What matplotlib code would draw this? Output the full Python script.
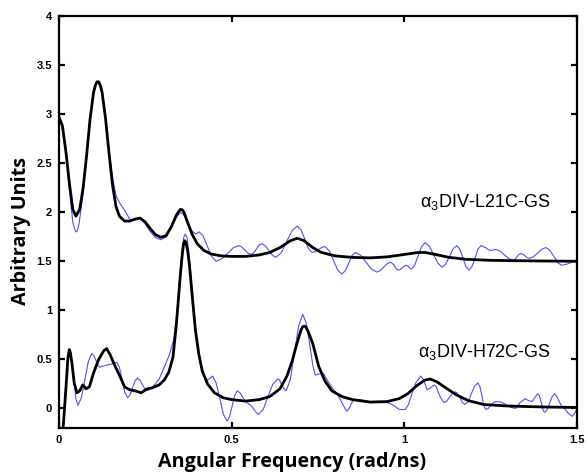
import matplotlib
matplotlib.use("Agg")
import matplotlib.pyplot as plt

# ---- data ----
l21c_fit_x = [0.000, 0.010, 0.020, 0.030, 0.040, 0.049, 0.060, 0.070, 0.080, 0.090, 0.100, 0.105, 0.110, 0.115,
              0.120, 0.125, 0.135, 0.145, 0.155, 0.165, 0.175, 0.190, 0.205, 0.220, 0.235, 0.250, 0.265, 0.280,
              0.295, 0.310, 0.325, 0.340, 0.347, 0.352, 0.357, 0.362, 0.372, 0.385, 0.400, 0.420, 0.440, 0.470, 0.500,
              0.540, 0.580, 0.610, 0.640, 0.670, 0.690, 0.710, 0.735, 0.760, 0.800, 0.850, 0.900, 0.950,
              1.000, 1.040, 1.060, 1.090, 1.130, 1.180, 1.250, 1.350, 1.500]
l21c_fit_y = [2.97, 2.88, 2.62, 2.30, 2.03, 1.96, 2.03, 2.25, 2.58, 2.95, 3.22, 3.29, 3.33, 3.33,
              3.29, 3.22, 2.95, 2.60, 2.28, 2.06, 1.96, 1.91, 1.91, 1.93, 1.94, 1.90, 1.83, 1.77,
              1.745, 1.76, 1.85, 1.97, 2.01, 2.03, 2.025, 2.00, 1.90, 1.78, 1.68, 1.61, 1.575, 1.555, 1.55,
              1.55, 1.565, 1.59, 1.64, 1.71, 1.735, 1.71, 1.64, 1.59, 1.555, 1.54, 1.535, 1.545,
              1.57, 1.59, 1.59, 1.57, 1.54, 1.52, 1.51, 1.505, 1.50]

l21c_raw_x = [0.000, 0.010, 0.020, 0.030, 0.040, 0.045, 0.049, 0.053, 0.058, 0.070, 0.080, 0.090, 0.100, 0.105,
              0.110, 0.115, 0.120, 0.125, 0.135, 0.145, 0.155, 0.165, 0.175, 0.190, 0.205, 0.220, 0.235,
              0.250, 0.265, 0.280, 0.295, 0.310, 0.325, 0.340, 0.352, 0.363, 0.374, 0.384, 0.395, 0.400,
              0.406, 0.418, 0.430, 0.443, 0.455, 0.471, 0.488, 0.504, 0.520, 0.529, 0.538, 0.547, 0.556,
              0.564, 0.572, 0.579, 0.587, 0.597, 0.608, 0.618, 0.628, 0.644, 0.659, 0.675, 0.690, 0.701,
              0.712, 0.722, 0.733, 0.742, 0.752, 0.761, 0.770, 0.782, 0.795, 0.807, 0.819, 0.829, 0.839,
              0.848, 0.858, 0.874, 0.889, 0.905, 0.920, 0.930, 0.940, 0.950, 0.960, 0.966, 0.972, 0.977,
              0.983, 0.989, 0.995, 1.000, 1.006, 1.013, 1.020, 1.030, 1.040, 1.050, 1.060, 1.073, 1.085,
              1.098, 1.110, 1.120, 1.131, 1.141, 1.152, 1.161, 1.170, 1.178, 1.187, 1.196, 1.205, 1.213,
              1.222, 1.235, 1.248, 1.257, 1.265, 1.278, 1.290, 1.303, 1.315, 1.320, 1.326, 1.332, 1.337,
              1.343, 1.350, 1.356, 1.362, 1.374, 1.386, 1.398, 1.410, 1.421, 1.433, 1.444, 1.455, 1.470,
              1.485, 1.500]
l21c_raw_y = [2.97, 2.88, 2.60, 2.24, 1.90, 1.83, 1.80, 1.81, 1.88, 2.20, 2.56, 2.93, 3.21, 3.29,
              3.33, 3.33, 3.29, 3.22, 2.96, 2.63, 2.36, 2.17, 2.10, 2.02, 1.93, 1.92, 1.94,
              1.88, 1.80, 1.74, 1.72, 1.75, 1.84, 1.95, 2.00, 1.967, 1.89, 1.813, 1.78, 1.785,
              1.80, 1.755, 1.65, 1.545, 1.50, 1.524, 1.58, 1.636, 1.66, 1.646, 1.615, 1.584, 1.57,
              1.587, 1.625, 1.664, 1.68, 1.659, 1.61, 1.561, 1.54, 1.588, 1.70, 1.812, 1.86, 1.82,
              1.725, 1.63, 1.59, 1.599, 1.62, 1.641, 1.65, 1.608, 1.51, 1.412, 1.37, 1.403, 1.48,
              1.557, 1.59, 1.56, 1.49, 1.42, 1.39, 1.405, 1.44, 1.475, 1.49, 1.478, 1.45, 1.422,
              1.41, 1.418, 1.435, 1.452, 1.46, 1.44, 1.42, 1.46, 1.555, 1.65, 1.69, 1.652, 1.565,
              1.478, 1.44, 1.473, 1.55, 1.627, 1.66, 1.622, 1.535, 1.448, 1.41, 1.448, 1.535, 1.622,
              1.66, 1.64, 1.61, 1.615, 1.62, 1.603, 1.565, 1.527, 1.51, 1.52, 1.545, 1.57, 1.58,
              1.573, 1.555, 1.537, 1.53, 1.546, 1.585, 1.624, 1.64, 1.613, 1.55, 1.487, 1.46, 1.47,
              1.49, 1.51]

h72c_fit_x = [0.000, 0.012, 0.020, 0.026, 0.030, 0.033, 0.038, 0.044, 0.052, 0.060, 0.069, 0.078, 0.088, 0.100,
              0.115, 0.130, 0.138, 0.148, 0.160, 0.175, 0.190, 0.205, 0.220, 0.238, 0.255, 0.270, 0.290,
              0.305, 0.318, 0.330, 0.340, 0.350, 0.355, 0.360, 0.364, 0.368, 0.373, 0.378, 0.386, 0.395,
              0.405, 0.415, 0.430, 0.450, 0.475, 0.500, 0.540, 0.580, 0.610, 0.640, 0.660, 0.675, 0.688,
              0.700, 0.705, 0.710, 0.715, 0.722, 0.735, 0.752, 0.770, 0.790, 0.820, 0.850, 0.900, 0.950,
              0.985, 1.010, 1.035, 1.060, 1.075, 1.095, 1.120, 1.150, 1.185, 1.230, 1.300, 1.400, 1.500]
h72c_fit_y = [-0.60, -0.20, 0.20, 0.52, 0.60, 0.57, 0.45, 0.26, 0.16, 0.18, 0.24, 0.20, 0.22, 0.36,
              0.50, 0.59, 0.61, 0.55, 0.45, 0.34, 0.22, 0.19, 0.18, 0.16, 0.20, 0.21, 0.24,
              0.29, 0.37, 0.52, 0.86, 1.30, 1.50, 1.66, 1.71, 1.69, 1.60, 1.45, 1.14, 0.80,
              0.55, 0.38, 0.25, 0.16, 0.11, 0.09, 0.075, 0.09, 0.12, 0.20, 0.33, 0.48, 0.65,
              0.79, 0.83, 0.84, 0.83, 0.78, 0.66, 0.43, 0.28, 0.18, 0.12, 0.09, 0.065, 0.07,
              0.10, 0.15, 0.23, 0.29, 0.30, 0.27, 0.21, 0.14, 0.08, 0.04, 0.025, 0.015, 0.01]

h72c_raw_x = [0.000, 0.012, 0.020, 0.026, 0.030, 0.036, 0.0425, 0.049, 0.055, 0.065, 0.075, 0.085, 0.095,
              0.101, 0.107, 0.112, 0.118, 0.135, 0.150, 0.167, 0.175, 0.183, 0.191, 0.199, 0.206, 0.213,
              0.220, 0.227, 0.234, 0.241, 0.249, 0.256, 0.270, 0.290, 0.305, 0.320, 0.332, 0.342, 0.350,
              0.356, 0.361, 0.366, 0.371, 0.380, 0.388, 0.396, 0.405, 0.415, 0.422, 0.430, 0.438, 0.445,
              0.455, 0.466, 0.476, 0.487, 0.494, 0.5015, 0.509, 0.516, 0.524, 0.532, 0.540, 0.548, 0.556,
              0.565, 0.572, 0.578, 0.592, 0.605, 0.619, 0.633, 0.639, 0.645, 0.652, 0.658, 0.670, 0.682,
              0.694, 0.706, 0.716, 0.726, 0.735, 0.742, 0.752, 0.765, 0.780, 0.795, 0.810, 0.822, 0.833,
              0.840, 0.853, 0.880, 0.900, 0.925, 0.950, 0.965, 0.985, 1.003, 1.012, 1.022, 1.033, 1.048,
              1.056, 1.066, 1.076, 1.086, 1.093, 1.100, 1.108, 1.115, 1.123, 1.131, 1.140, 1.148, 1.155,
              1.162, 1.168, 1.175, 1.185, 1.194, 1.204, 1.213, 1.219, 1.225, 1.230, 1.236, 1.243, 1.250,
              1.258, 1.265, 1.280, 1.295, 1.310, 1.323, 1.335, 1.350, 1.360, 1.370, 1.386, 1.391, 1.397,
              1.402, 1.407, 1.414, 1.421, 1.428, 1.435, 1.442, 1.450, 1.458, 1.466, 1.475, 1.486, 1.493,
              1.500]
h72c_raw_y = [-0.60, -0.20, 0.22, 0.53, 0.60, 0.52, 0.31, 0.10, 0.03, 0.11, 0.295, 0.48, 0.56,
              0.54, 0.49, 0.44, 0.42, 0.44, 0.45, 0.47, 0.42, 0.29, 0.16, 0.11, 0.14, 0.21,
              0.28, 0.31, 0.29, 0.245, 0.20, 0.18, 0.21, 0.30, 0.42, 0.55, 0.70, 0.98, 1.35,
              1.60, 1.74, 1.78, 1.74, 1.45, 1.13, 0.80, 0.57, 0.40, 0.32, 0.29, 0.31, 0.33,
              0.26, 0.10, -0.06, -0.13, -0.083, 0.025, 0.133, 0.18, 0.16, 0.115, 0.07, 0.05, 0.03,
              -0.01, -0.045, -0.06, -0.006, 0.12, 0.246, 0.30, 0.29, 0.24, 0.20, 0.18, 0.297, 0.57,
              0.843, 0.96, 0.868, 0.655, 0.44, 0.34, 0.35, 0.36, 0.27, 0.19, 0.12, 0.04, -0.03,
              0.00, 0.09, 0.085, 0.07, 0.06, 0.06, 0.04, -0.01, -0.01, 0.04, 0.15, 0.26, 0.33,
              0.29, 0.19, 0.21, 0.24, 0.22, 0.15, 0.09, 0.06, 0.075, 0.115, 0.155, 0.17, 0.15,
              0.105, 0.06, 0.04, 0.07, 0.15, 0.23, 0.26, 0.22, 0.125, 0.03, -0.01, 0.00, 0.03,
              0.06, 0.07, 0.065, 0.04, 0.01, 0.00, 0.06, 0.10, 0.08, 0.07, 0.15, 0.13, 0.055,
              -0.02, -0.04, -0.01, 0.055, 0.12, 0.15, 0.12, 0.06, 0.01, -0.01, -0.05, -0.08, -0.05,
              0.00]

x_ticks = [0, 0.5, 1, 1.5]
x_tick_labels = ["0", "0.5", "1", "1.5"]
y_ticks = [0, 0.5, 1, 1.5, 2, 2.5, 3, 3.5, 4]
y_tick_labels = ["0", "0.5", "1", "1.5", "2", "2.5", "3", "3.5", "4"]

label_l21c = "α$_3$DIV-L21C-GS"
label_h72c = "α$_3$DIV-H72C-GS"

# ---- figure ----
plt.rcParams["mathtext.fontset"] = "custom"
plt.rcParams["mathtext.rm"] = "Liberation Sans"
plt.rcParams["mathtext.default"] = "regular"

fig = plt.figure(figsize=(5.88, 4.73), dpi=100)
ax = fig.add_axes([0.1003, 0.095, 0.881, 0.871])

blue = "#4f4fff"
ax.plot(l21c_raw_x, l21c_raw_y, color=blue, lw=0.8, solid_joinstyle="round")
ax.plot(h72c_raw_x, h72c_raw_y, color=blue, lw=0.8, solid_joinstyle="round")
ax.plot(l21c_fit_x, l21c_fit_y, color="black", lw=2.0, solid_joinstyle="round")
ax.plot(h72c_fit_x, h72c_fit_y, color="black", lw=2.0, solid_joinstyle="round")

ax.set_xlim(0, 1.5)
ax.set_ylim(-0.2, 4)
ax.set_xticks(x_ticks)
ax.set_xticklabels(x_tick_labels)
ax.set_yticks(y_ticks)
ax.set_yticklabels(y_tick_labels)

for s in ax.spines.values():
    s.set_linewidth(1.6)
ax.tick_params(direction="in", length=4, width=1.6, top=True, right=True, pad=5)
for lab in ax.get_xticklabels() + ax.get_yticklabels():
    lab.set_fontfamily("Liberation Sans")
    lab.set_fontweight("bold")
    lab.set_fontsize(8)

fig.text(0.4966, 1 - 466.5 / 473, "Angular Frequency (rad/ns)", fontfamily="Open Sans",
         fontweight="bold", fontsize=14.2, ha="center", va="baseline")
fig.text(26 / 588, 1 - 231 / 473, "Arbitrary Units", fontfamily="Open Sans",
         fontweight="bold", fontsize=14.2, ha="center", va="baseline", rotation=90,
         rotation_mode="anchor")

ax.text(1.045, 2.05, label_l21c, fontfamily="Liberation Sans", fontsize=13, va="baseline", ha="left")
ax.text(1.039, 0.52, label_h72c, fontfamily="Liberation Sans", fontsize=13, va="baseline", ha="left")

fig.savefig("out.png", dpi=100)
